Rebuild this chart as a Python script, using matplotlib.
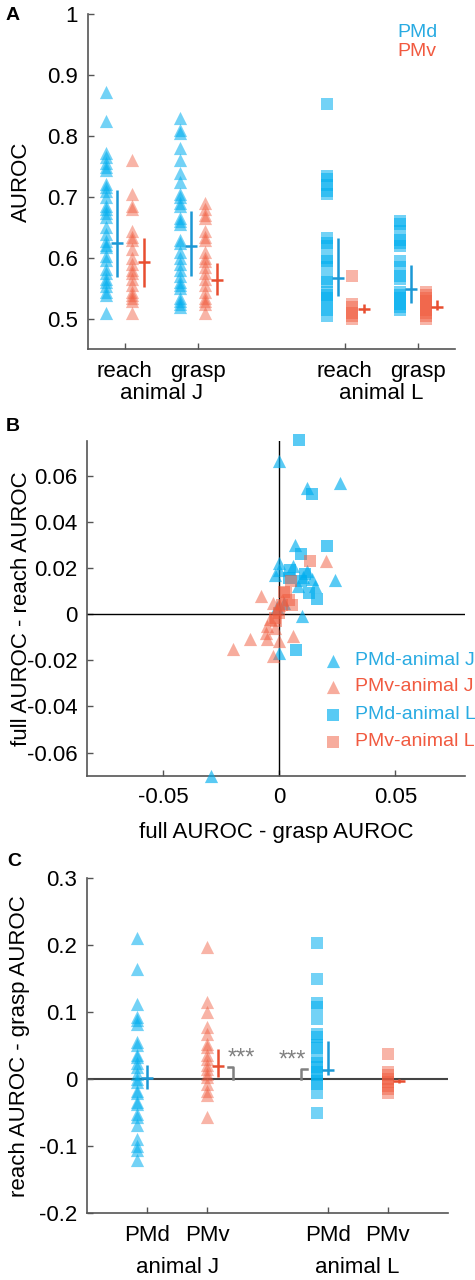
import numpy as np
import matplotlib
matplotlib.use('Agg')
import matplotlib.pyplot as plt

plt.rcParams['font.family'] = ['Liberation Sans', 'DejaVu Sans']
plt.rcParams['axes.unicode_minus'] = False

BLUE = '#00aeef'
RED = '#f05a3c'
BLUE_BAR = '#1b98d5'
RED_BAR = '#e84e30'
BLUE_TXT = '#29abe2'
RED_TXT = '#f15a40'

# ---- panel A: AUROC per neuron ----
a_groups = ['reach', 'grasp', 'reach', 'grasp']
a_animals = ['animal J', 'animal L']
a_reach_j_pmd = [0.872, 0.825, 0.772, 0.765, 0.755, 0.75, 0.744, 0.722, 0.716, 0.71, 0.70, 0.686,
                 0.68, 0.674, 0.668, 0.65, 0.64, 0.628, 0.622, 0.618, 0.603, 0.596, 0.582, 0.576,
                 0.566, 0.56, 0.554, 0.545, 0.54, 0.51]
a_reach_j_pmv = [0.76, 0.705, 0.685, 0.68, 0.645, 0.635, 0.63, 0.615, 0.60, 0.59, 0.58, 0.575,
                 0.565, 0.555, 0.545, 0.54, 0.535, 0.53, 0.51]
a_grasp_j_pmd = [0.83, 0.81, 0.805, 0.78, 0.76, 0.74, 0.725, 0.705, 0.70, 0.69, 0.685, 0.665,
                 0.66, 0.655, 0.63, 0.625, 0.61, 0.60, 0.59, 0.58, 0.57, 0.56, 0.555, 0.55,
                 0.535, 0.53, 0.525, 0.52]
a_grasp_j_pmv = [0.69, 0.68, 0.67, 0.665, 0.645, 0.635, 0.63, 0.61, 0.60, 0.595, 0.585, 0.575,
                 0.565, 0.555, 0.545, 0.535, 0.53, 0.525, 0.51]
a_reach_l_pmd = [0.853, 0.735, 0.73, 0.72, 0.71, 0.705, 0.633, 0.625, 0.62, 0.60, 0.595, 0.585,
                 0.565, 0.56, 0.545, 0.54, 0.535, 0.525, 0.515, 0.505]
a_reach_l_pmv = [0.57, 0.525, 0.52, 0.51, 0.505, 0.50]
a_grasp_l_pmd = [0.66, 0.655, 0.645, 0.63, 0.625, 0.62, 0.595, 0.585, 0.57, 0.565, 0.545, 0.54,
                 0.535, 0.525, 0.52, 0.515]
a_grasp_l_pmv = [0.545, 0.54, 0.535, 0.53, 0.525, 0.52, 0.515, 0.51, 0.505, 0.50]
# mean and interval per (group, area): PMd, PMv, PMd, PMv ...
a_mean = [0.625, 0.593, 0.620, 0.564, 0.567, 0.516, 0.549, 0.520]
a_lo = [0.569, 0.552, 0.570, 0.539, 0.538, 0.510, 0.526, 0.514]
a_hi = [0.711, 0.633, 0.677, 0.592, 0.633, 0.525, 0.589, 0.531]

# ---- panel B: full - grasp vs full - reach ----
b_pmd_j_x = [0.0, 0.026, 0.012, 0.0066, 0.0, 0.0, -0.002, 0.006, 0.0241, 0.0141, 0.0118, 0.0155,
             0.0098, 0.0, -0.0294, 0.002, -0.001, 0.010, 0.008]
b_pmd_j_y = [0.0665, 0.057, 0.0545, 0.030, 0.022, 0.019, 0.017, 0.021, 0.0147, 0.015, 0.0185, 0.012,
             -0.001, -0.017, -0.070, 0.005, 0.003, 0.016, 0.012]
b_pmv_j_x = [0.0201, -0.0079, -0.0026, -0.0011, -0.0055, -0.006, -0.0055, -0.0127, -0.0202, 0.0,
             0.006, -0.0026, 0.001, -0.004, 0.0, -0.002]
b_pmv_j_y = [0.023, 0.0078, 0.005, 0.002, -0.005, -0.008, -0.011, -0.011, -0.015, -0.0115,
             -0.0095, -0.018, 0.006, -0.002, 0.004, -0.006]
b_pmd_l_x = [0.0086, 0.0141, 0.0205, 0.0093, 0.0046, 0.0093, 0.0126, 0.0162, 0.0072, 0.004, 0.011]
b_pmd_l_y = [0.0755, 0.052, 0.0295, 0.026, 0.019, 0.0145, 0.009, 0.0065, -0.0154, 0.0155, 0.0175]
b_pmv_l_x = [0.0133, 0.005, 0.003, 0.004, 0.001, 0.0053, -0.002, -0.0015, 0.002, 0.0]
b_pmv_l_y = [0.023, 0.0145, 0.009, 0.006, 0.004, 0.004, -0.0015, -0.003, 0.0095, 0.0005]
b_labels = ['PMd-animal J', 'PMv-animal J', 'PMd-animal L', 'PMv-animal L']

# ---- panel C: reach - grasp ----
c_areas = ['PMd', 'PMv', 'PMd', 'PMv']
c_pmd_j = [0.21, 0.165, 0.112, 0.093, 0.088, 0.082, 0.055, 0.051, 0.036, 0.033, 0.024, 0.019,
           0.008, 0.001, -0.004, -0.017, -0.021, -0.034, -0.037, -0.051, -0.056, -0.068, -0.089,
           -0.10, -0.105, -0.121]
c_pmv_j = [0.197, 0.115, 0.101, 0.078, 0.068, 0.052, 0.048, 0.036, 0.031, 0.022, 0.015, 0.008,
           0.004, -0.007, -0.018, -0.024, -0.056]
c_pmd_l = [0.203, 0.149, 0.114, 0.108, 0.09, 0.068, 0.063, 0.051, 0.046, 0.033, 0.024, 0.019,
           0.011, 0.006, -0.002, -0.007, -0.02, -0.05]
c_pmv_l = [0.038, 0.011, 0.006, 0.001, -0.004, -0.01, -0.015, -0.02]
c_mean = [0.002, 0.020, 0.014, -0.002]
c_lo = [-0.014, 0.004, 0.007, -0.005]
c_hi = [0.021, 0.045, 0.057, 0.001]

FS = 16


def style_axes(ax):
    for s in ['top', 'right']:
        ax.spines[s].set_visible(False)
    for s in ['left', 'bottom']:
        ax.spines[s].set_color('#555555')
        ax.spines[s].set_linewidth(1.2)
    ax.tick_params(direction='in', length=4, width=1, color='#555555', labelsize=FS)
    ax.tick_params(axis='x', pad=8)
    ax.tick_params(axis='y', pad=7)


def errbar(ax, x, m, lo, hi, color):
    ax.plot([x, x], [lo, hi], color=color, lw=1.8, solid_capstyle='butt')
    ax.plot([x], [m], marker='_', ms=8, mew=1.8, color=color)


fig = plt.figure(figsize=(4.75, 12.8), dpi=100)

# ================= A =================
ax = fig.add_axes([0.185, 0.727, 0.773, 0.262])
style_axes(ax)
a_data = [a_reach_j_pmd, a_reach_j_pmv, a_grasp_j_pmd, a_grasp_j_pmv,
          a_reach_l_pmd, a_reach_l_pmv, a_grasp_l_pmd, a_grasp_l_pmv]
a_pos = [1, 2, 4, 5]
for gi, p in enumerate(a_pos):
    mk = '^' if gi < 2 else 's'
    ms = 90 if gi < 2 else 65
    for ai, (col, bcol, off, eoff) in enumerate([(BLUE, BLUE_BAR, -0.25, -0.10), (RED, RED_BAR, 0.10, 0.26)]):
        k = gi * 2 + ai
        vals = a_data[k]
        ax.scatter(np.full(len(vals), p + off), vals, marker=mk, s=ms, color=col,
                   alpha=0.55 if ai == 0 else 0.45, linewidths=0, clip_on=False)
        errbar(ax, p + eoff, a_mean[k], a_lo[k], a_hi[k], bcol)
ax.set_xlim(0.5, 5.5)
ax.set_ylim(0.45, 1.0)
ax.set_yticks([0.5, 0.6, 0.7, 0.8, 0.9, 1.0])
ax.set_yticklabels(['0.5', '0.6', '0.7', '0.8', '0.9', '1'])
ax.set_xticks(a_pos)
ax.set_xticklabels(a_groups)
for i, name in enumerate(a_animals):
    ax.annotate(name, xy=(a_pos[2 * i] + 0.5, 0), xycoords=('data', 'axes fraction'),
                xytext=(0, -32), textcoords='offset points', ha='center', va='center', fontsize=FS)
ax.set_ylabel('AUROC', fontsize=FS)
ax.yaxis.set_label_coords(-0.152, 0.5)
ax.text(0.842, 0.946, 'PMd', color=BLUE_TXT, fontsize=14, transform=ax.transAxes, va='center')
ax.text(0.842, 0.887, 'PMv', color=RED_TXT, fontsize=14, transform=ax.transAxes, va='center')
fig.text(0.012, 0.988, 'A', fontsize=14, fontweight='bold', va='center')

# ================= B =================
ax = fig.add_axes([0.183, 0.394, 0.796, 0.2615])
style_axes(ax)
ax.axhline(0, color='black', lw=1)
ax.axvline(0, color='black', lw=1)
b_sets = [(b_pmd_j_x, b_pmd_j_y, '^', BLUE, 90, 0.65), (b_pmv_j_x, b_pmv_j_y, '^', RED, 90, 0.5),
          (b_pmd_l_x, b_pmd_l_y, 's', BLUE, 65, 0.65), (b_pmv_l_x, b_pmv_l_y, 's', RED, 65, 0.5)]
for (xs, ys, mk, col, ms, al) in b_sets:
    ax.scatter(xs, ys, marker=mk, s=ms, color=col, alpha=al, linewidths=0, clip_on=False, zorder=3)
ax.set_xlim(-0.083, 0.08)
ax.set_ylim(-0.07, 0.075)
ax.set_xticks([-0.05, 0, 0.05])
ax.set_xticklabels(['-0.05', '0', '0.05'])
ax.set_yticks([-0.06, -0.04, -0.02, 0, 0.02, 0.04, 0.06])
ax.set_yticklabels(['-0.06', '-0.04', '-0.02', '0', '0.02', '0.04', '0.06'])
ax.set_xlabel('full AUROC - grasp AUROC', fontsize=FS, labelpad=10)
ax.set_ylabel('full AUROC - reach AUROC', fontsize=FS)
ax.yaxis.set_label_coords(-0.145, 0.5)
leg_y = [0.343, 0.266, 0.182, 0.101]
for (xs, ys, mk, col, ms, al), lab, ly in zip(b_sets, b_labels, leg_y):
    ax.scatter([0.651], [ly], marker=mk, s=ms, color=col, alpha=al, linewidths=0,
               transform=ax.transAxes, clip_on=False)
    ax.text(0.709, ly, lab, color=BLUE_TXT if col == BLUE else RED_TXT, fontsize=14,
            transform=ax.transAxes, va='center')
fig.text(0.012, 0.667, 'B', fontsize=14, fontweight='bold', va='center')

# ================= C =================
ax = fig.add_axes([0.183, 0.052, 0.760, 0.262])
style_axes(ax)
ax.axhline(0, color='#444444', lw=1.5, zorder=1)
c_data = [c_pmd_j, c_pmv_j, c_pmd_l, c_pmv_l]
c_pos = [1, 2, 4, 5]
for k, p in enumerate(c_pos):
    mk = '^' if k < 2 else 's'
    ms = 90 if k < 2 else 65
    is_pmd = k % 2 == 0
    col = BLUE if is_pmd else RED
    bcol = BLUE_BAR if is_pmd else RED_BAR
    moff, eoff = (-0.17, 0.0) if is_pmd else (0.0, 0.18)
    vals = c_data[k]
    ax.scatter(np.full(len(vals), p + moff), vals, marker=mk, s=ms, color=col,
               alpha=0.55 if is_pmd else 0.45, linewidths=0, zorder=2)
    errbar(ax, p + eoff, c_mean[k], c_lo[k], c_hi[k], bcol)
# significance brackets
ax.plot([2.34, 2.43, 2.43], [0.019, 0.019, 0.0], color='#808080', lw=1.8)
ax.plot([3.65, 3.55, 3.55], [0.015, 0.015, 0.0], color='#808080', lw=1.8)
ax.text(2.56, 0.0215, '***', color='#808080', fontsize=17, ha='center', va='baseline')
ax.text(3.42, 0.0185, '***', color='#808080', fontsize=17, ha='center', va='baseline')
ax.set_xlim(0, 6)
ax.set_ylim(-0.2, 0.3)
ax.set_yticks([-0.2, -0.1, 0, 0.1, 0.2, 0.3])
ax.set_yticklabels(['-0.2', '-0.1', '0', '0.1', '0.2', '0.3'])
ax.set_xticks(c_pos)
ax.set_xticklabels(c_areas)
for i, name in enumerate(a_animals):
    ax.annotate(name, xy=(c_pos[2 * i] + 0.5, 0), xycoords=('data', 'axes fraction'),
                xytext=(0, -39), textcoords='offset points', ha='center', va='center', fontsize=FS)
ax.set_ylabel('reach AUROC - grasp AUROC', fontsize=FS)
ax.yaxis.set_label_coords(-0.157, 0.5)
fig.text(0.015, 0.327, 'C', fontsize=14, fontweight='bold', va='center')

plt.savefig('out.png', dpi=100)
